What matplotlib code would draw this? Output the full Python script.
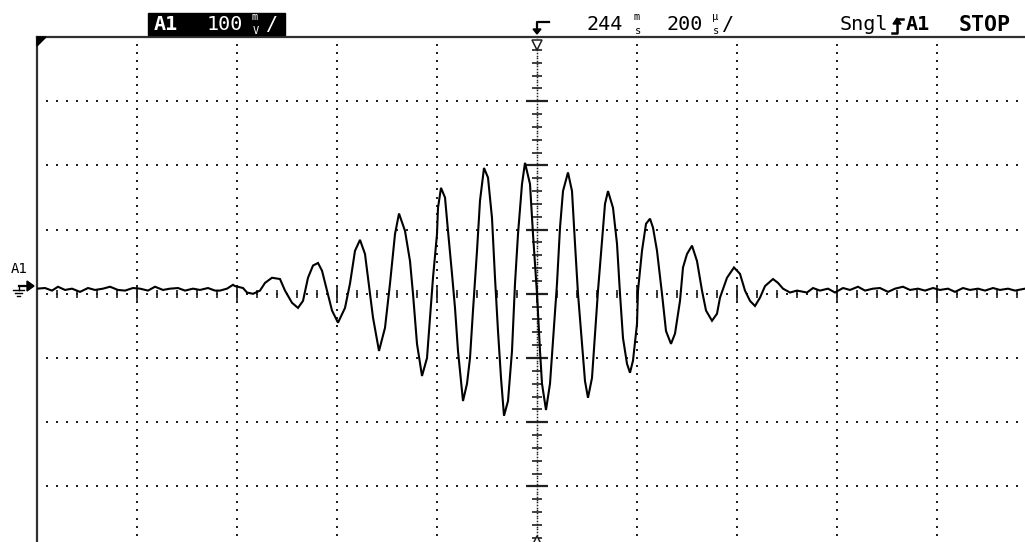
import numpy as np
import matplotlib
matplotlib.use('Agg')
import matplotlib.pyplot as plt
from matplotlib.patches import Rectangle, Polygon
from matplotlib.lines import Line2D

### channel A1 trace, time in us (200 us/div), voltage in mV (100 mV/div)
t_us = [-1000, -984, -970, -958, -944, -930, -914, -898, -884, -868, -854, -838,
        -824, -808, -794, -778, -764, -748, -734, -718, -704, -688, -674, -658,
        -644, -634, -620, -608, -604, -588, -580, -568, -554, -544, -530, -514,
        -504, -490, -478, -468, -458, -448, -438, -430, -420, -410, -398, -384,
        -374, -364, -354, -344, -334, -328, -316, -304, -294, -284, -276, -264,
        -254, -248, -240, -230, -220, -214, -208, -200, -198, -192, -184, -178,
        -170, -164, -158, -148, -140, -134, -128, -120, -114, -106, -98, -90,
        -84, -78, -72, -66, -58, -50, -44, -38, -30, -24, -14, -8,
        0, 6, 10, 18, 26, 32, 40, 46, 52, 62, 70, 76,
        82, 90, 96, 102, 110, 116, 122, 130, 136, 142, 152, 160,
        166, 172, 180, 186, 192, 200, 202, 210, 218, 226, 232, 240,
        250, 258, 268, 276, 286, 292, 300, 310, 320, 330, 338, 350,
        360, 366, 380, 394, 406, 416, 426, 436, 446, 456, 472, 482,
        492, 506, 520, 540, 552, 566, 582, 596, 612, 626, 642, 656,
        672, 686, 702, 716, 732, 746, 762, 776, 792, 806, 822, 836,
        852, 866, 882, 896, 912, 926, 942, 956, 976]
v_mv = [8, 9, 5, 11, 6, 8, 3, 9, 6, 8, 11, 6,
        5, 9, 8, 5, 11, 6, 8, 9, 5, 8, 6, 9,
        5, 5, 8, 14, 12, 9, 2, 0, 5, 17, 25, 23,
        5, -14, -22, -11, 25, 44, 48, 36, 5, -26, -45, -22,
        16, 67, 84, 62, 0, -37, -89, -53, 16, 93, 125, 98,
        51, 0, -78, -128, -100, -37, 25, 93, 134, 165, 150, 98,
        31, -22, -89, -167, -140, -100, -26, 67, 145, 196, 181, 118,
        25, -58, -131, -190, -167, -89, 16, 93, 171, 204, 171, 93,
        0, -89, -140, -181, -140, -73, 16, 103, 160, 189, 160, 78,
        0, -78, -136, -162, -131, -62, 5, 83, 140, 160, 134, 78,
        0, -69, -109, -123, -104, -47, 5, 67, 109, 117, 103, 67,
        0, -58, -78, -62, -11, 41, 62, 75, 51, 5, -26, -42,
        -31, -6, 25, 41, 31, 5, -11, -19, -6, 12, 23, 17,
        8, 2, 5, 2, 9, 5, 8, 2, 9, 6, 11, 5,
        8, 9, 3, 8, 11, 6, 8, 5, 9, 6, 8, 3,
        9, 6, 8, 5, 9, 6, 8, 5, 8]

### header texts
ch_label = 'A1'
ch_scale = '100'
delay_val = '244'
time_scale = '200'
mode_text = 'Sngl'
trig_src = 'A1'
run_state = 'STOP'

W, H = 1025, 542
def px(x, y):
    'pixel (top-left origin) -> figure fraction'
    return x / W, 1 - y / H

fig = plt.figure(figsize=(W / 100, H / 100), dpi=100)
fig.patch.set_facecolor('white')
top, div_w, div_h = 37, 100.0, 64.2
ax = fig.add_axes([37 / W, (H - top - 8 * div_h) / H, 10 * div_w / W, 8 * div_h / H])
ax.set_xlim(-1000, 1000)
ax.set_ylim(-400, 400)
ax.set_xticks([]); ax.set_yticks([])
for s in ['right', 'bottom']:
    ax.spines[s].set_visible(False)
for s in ['left', 'top']:
    ax.spines[s].set_linewidth(1.6)
    ax.spines[s].set_color('#303030')

'dotted graticule'
dot = dict(ls='none', marker='s', ms=1.5, color='#202020', mew=0)
xs = np.arange(-1000, 1001, 20)
for yv in range(-300, 301, 100):
    ax.plot(xs, np.full(len(xs), yv), **dot)
ys = np.arange(-400, 401, 12.5)
for xv in range(-800, 801, 200):
    if xv == 0:
        continue
    ax.plot(np.full(len(ys), xv), ys, **dot)
'centre axes with ticks'
yc = np.arange(-400, 401, 400 / 96)
ax.plot(np.zeros(len(yc)), yc, ls='none', marker='s', ms=1.1, color='#202020', mew=0)
ym = np.arange(-400, 401, 20)
ax.plot(np.zeros(len(ym)), ym, ls='none', marker='_', ms=7, mew=1.2, color='#202020')
yM = np.arange(-300, 301, 100)
ax.plot(np.zeros(len(yM)), yM, ls='none', marker='_', ms=16, mew=1.6, color='#202020')
xm = np.arange(-960, 1001, 40)
ax.plot(xm, np.zeros(len(xm)), ls='none', marker='|', ms=6, mew=1.2, color='#202020')
xM = np.arange(-800, 801, 200)
ax.plot(xM, np.zeros(len(xM)), ls='none', marker='|', ms=13, mew=1.2, color='#202020')

'trace'
ax.plot(t_us, v_mv, color='black', lw=1.5, solid_joinstyle='miter', zorder=5)

'trigger position markers'
ax.plot([0], [388], marker='v', ms=7, mfc='white', mec='#202020', mew=1.1, clip_on=False, zorder=6)
ax.plot([0], [-384], marker='^', ms=6, mfc='white', mec='#202020', mew=1.1, clip_on=False, zorder=6)

'corner mark'
fig.patches.append(Polygon([px(37, 37), px(46, 37), px(37, 46)], closed=True,
                           transform=fig.transFigure, color='black'))

'header'
fs = 14.5
us = 7.5
mono = ['DejaVu Sans Mono']
fig.patches.append(Rectangle(px(148, 35), 137 / W, 22 / H, transform=fig.transFigure,
                             color='black'))
fig.text(*px(154, 25), ch_label, color='white', fontsize=fs, fontweight='bold',
         family=mono, va='center', ha='left')
fig.text(*px(207, 25), ch_scale, color='white', fontsize=fs, family=mono, va='center')
fig.text(*px(252, 17.5), 'm', color='white', fontsize=us, family=mono, va='center')
fig.text(*px(253, 30.5), 'V', color='white', fontsize=us, family=mono, va='center')
fig.text(*px(266, 25), '/', color='white', fontsize=fs, family=mono, va='center')

fig.text(*px(587, 25), delay_val, fontsize=fs, family=mono, va='center')
fig.text(*px(633, 17.5), 'm', fontsize=us, family=mono, va='center')
fig.text(*px(635, 30.5), 's', fontsize=us, family=mono, va='center')
fig.text(*px(666, 25), time_scale, fontsize=fs, family=mono, va='center')
fig.text(*px(712, 17.5), 'µ', fontsize=us, family=mono, va='center')
fig.text(*px(713, 30.5), 's', fontsize=us, family=mono, va='center')
fig.text(*px(722, 25), '/', fontsize=fs, family=mono, va='center')

fig.text(*px(840, 25), mode_text, fontsize=fs, family=mono, va='center')
fig.text(*px(906, 25), trig_src, fontsize=fs, fontweight='bold', family=mono, va='center')
fig.text(*px(959, 25), run_state, fontsize=15.5, fontweight='bold', family=mono, va='center')

'trigger glyph and edge glyph'
def seg(pts, lw=1.6):
    xx, yy = zip(*[px(a, b) for a, b in pts])
    fig.lines.append(Line2D(xx, yy, transform=fig.transFigure, color='black', lw=lw))
seg([(549, 22), (537, 22), (537, 31)])
fig.patches.append(Polygon([px(533, 29), px(541, 29), px(537, 34)], closed=True,
                           transform=fig.transFigure, color='black'))
seg([(892, 33), (897, 33), (897, 19), (903, 19)], lw=1.8)
fig.patches.append(Polygon([px(893, 24), px(901, 24), px(897, 18)], closed=True,
                           transform=fig.transFigure, color='black'))

'channel marker at left'
fig.text(*px(11, 269), ch_label, fontsize=10, family=mono, va='center')
seg([(19, 286), (29, 286)])
fig.patches.append(Polygon([px(27, 281), px(34, 286), px(27, 291)], closed=True,
                           transform=fig.transFigure, color='black'))
seg([(19, 286), (19, 290)], lw=1.0)
seg([(13, 290), (24, 290)], lw=1.0)
seg([(15, 293), (22, 293)], lw=1.0)
seg([(17, 296), (20, 296)], lw=1.0)

plt.savefig('out.png', dpi=100)
